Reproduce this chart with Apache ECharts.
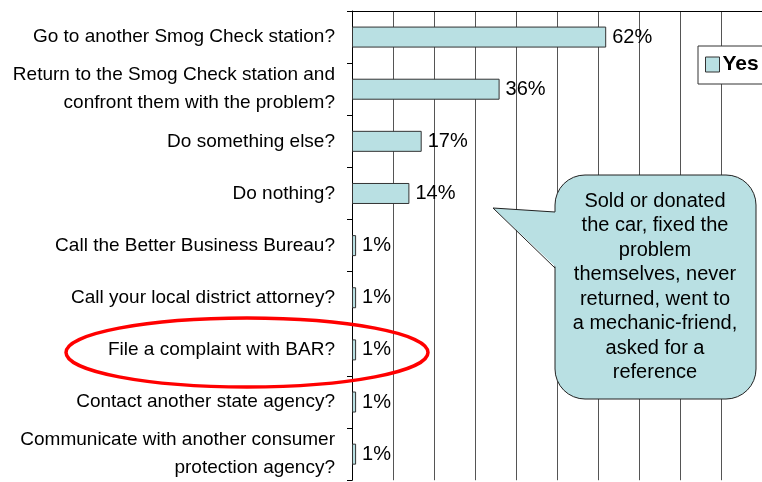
<!DOCTYPE html>
<html>
<head>
<meta charset="utf-8">
<script src="https://cdn.jsdelivr.net/npm/echarts@6/dist/echarts.min.js"></script>
<style>
  html, body { margin: 0; padding: 0; background: #fff; }
  #chart { width: 762px; height: 482px; }
</style>
</head>
<body>
<div id="chart"></div>
<script>
// survey answers, top to bottom
const categories = [
  'Go to another Smog Check station?',
  'Return to the Smog Check station and\nconfront them with the problem?',
  'Do something else?',
  'Do nothing?',
  'Call the Better Business Bureau?',
  'Call your local district attorney?',
  'File a complaint with BAR?',
  'Contact another state agency?',
  'Communicate with another consumer\nprotection agency?'
]
const yesValues = [62, 36, 17, 14, 1, 1, 1, 1, 1]
const seriesName = 'Yes'
const calloutText = [
  'Sold or donated',
  'the car, fixed the',
  'problem',
  'themselves, never',
  'returned, went to',
  'a mechanic-friend,',
  'asked for a',
  'reference'
]

const font = "'Liberation Sans', Arial, sans-serif"
const fill = '#B9E0E3'

const chart = echarts.init(document.getElementById('chart'))

const option = {
  animation: false,
  backgroundColor: '#fff',
  textStyle: { fontFamily: font },
  grid: { left: 352, top: 11, width: 413, height: 472, containLabel: false },
  legend: {
    data: [seriesName],
    left: 698,
    top: 46,
    icon: 'rect',
    itemWidth: 14,
    itemHeight: 15,
    padding: [8, 14, 9, 7],
    backgroundColor: '#fff',
    borderColor: '#333',
    borderWidth: 1,
    itemStyle: { borderColor: '#333', borderWidth: 1 },
    textStyle: { fontSize: 21, fontWeight: 'bold', color: '#000', fontFamily: font, lineHeight: 20, padding: [0, 0, 0, -2] }
  },
  xAxis: {
    type: 'value',
    position: 'top',
    min: 0,
    max: 100,
    interval: 10,
    axisLine: { show: true, lineStyle: { color: '#000', width: 1 } },
    axisTick: { show: false },
    axisLabel: { show: false },
    splitLine: { show: true, lineStyle: { color: '#555', width: 1 } }
  },
  yAxis: {
    type: 'category',
    inverse: true,
    data: categories,
    axisLine: { show: true, lineStyle: { color: '#000', width: 1 } },
    axisTick: { show: true, inside: false, length: 5, lineStyle: { color: '#000' } },
    axisLabel: {
      margin: 17,
      fontSize: 19,
      lineHeight: 28,
      color: '#000',
      align: 'right',
      fontFamily: font
    },
    splitLine: { show: false }
  },
  series: [{
    name: seriesName,
    type: 'bar',
    data: yesValues,
    barWidth: 21,
    itemStyle: { color: fill, borderColor: '#333', borderWidth: 1 },
    label: {
      show: true,
      position: 'right',
      distance: 6,
      formatter: '{c}%',
      fontSize: 20,
      color: '#000',
      fontFamily: font
    }
  }],
  graphic: [
    // callout bubble
    {
      type: 'rect',
      z: 100,
      shape: { x: 555, y: 175, width: 201, height: 224, r: 30 },
      style: { fill: fill, stroke: '#222', lineWidth: 1 }
    },
    {
      type: 'polygon',
      z: 101,
      shape: { points: [[493, 208], [557, 212], [557, 268]] },
      style: { fill: fill, stroke: null }
    },
    {
      type: 'polyline',
      z: 102,
      shape: { points: [[555, 212], [493, 208], [555, 268]] },
      style: { fill: null, stroke: '#222', lineWidth: 1 }
    },
    {
      type: 'text',
      z: 103,
      x: 655,
      y: 287,
      style: {
        text: calloutText.join('\n'),
        font: "20px 'Liberation Sans', Arial, sans-serif",
        fill: '#000',
        textAlign: 'center',
        textVerticalAlign: 'middle',
        lineHeight: 24.5
      }
    },
    {
      type: 'ellipse',
      z: 104,
      shape: { cx: 247, cy: 352.5, rx: 181, ry: 34.5 },
      style: { fill: null, stroke: '#FF0000', lineWidth: 3.5 }
    }
  ]
}

chart.setOption(option)
</script>
</body>
</html>
